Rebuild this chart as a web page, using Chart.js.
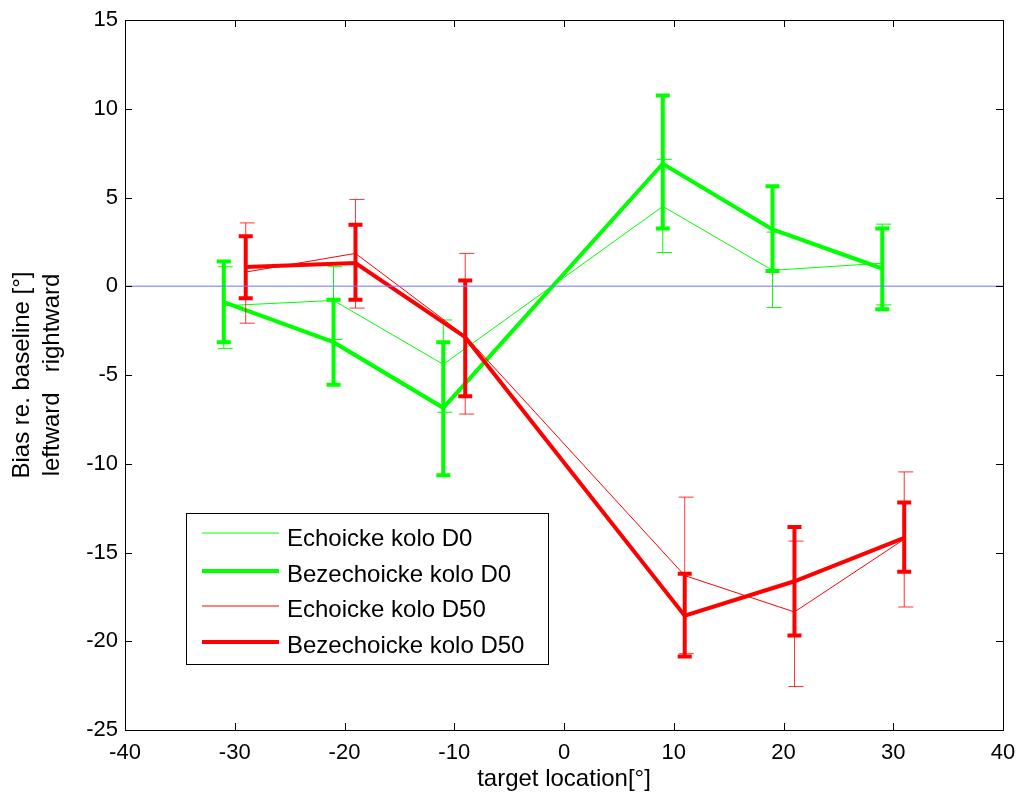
<!DOCTYPE html>
<html>
<head>
<meta charset="utf-8">
<script src="https://cdn.jsdelivr.net/npm/chart.js@4.4.0/dist/chart.umd.min.js"></script>
<style>
  html, body { margin: 0; padding: 0; background: #fff; }
  canvas { display: block; }
</style>
</head>
<body>
<canvas id="biasChart" width="1019" height="799"></canvas>
<script>
// target positions (D0 and D50 are shifted a bit so the bars don't overlap)
const xD0 = [-31, -21, -11, 9, 19, 29];
const xD50 = [-29, -19, -9, 11, 21, 31];

const echoD0 = [-1.1, -0.8, -4.4, 4.5, 0.9, 1.3];
const echoD0Low = [-3.5, -3.0, -7.1, 1.9, -1.2, -1.05];
const echoD0High = [1.1, 1.1, -1.9, 7.15, 3.05, 3.5];

const bezD0 = [-0.9, -3.15, -6.85, 6.9, 3.2, 1.0];
const bezD0Low = [-3.15, -5.55, -10.65, 3.25, 0.86, -1.3];
const bezD0High = [1.4, -0.76, -3.15, 10.75, 5.64, 3.25];

const echoD50 = [0.8, 1.85, -2.8, -16.3, -18.35, -14.25];
const echoD50Low = [-2.08, -1.23, -7.2, -20.7, -22.55, -18.07];
const echoD50High = [3.57, 4.89, 1.85, -11.88, -14.36, -10.46];

const bezD50 = [1.08, 1.31, -2.87, -18.56, -16.62, -14.17];
const bezD50Low = [-0.67, -0.76, -6.2, -20.86, -19.67, -16.09];
const bezD50High = [2.81, 3.47, 0.33, -16.2, -13.57, -12.19];

const xTicks = [-40, 40];
const yTicks = [-25, 15];

function toPoints(xs, ys) {
    return xs.map((x, i) => ({ x: x, y: ys[i] }));
}

Chart.defaults.font.family = '"Liberation Sans", Arial, sans-serif';
Chart.defaults.color = '#000';

const errorBars = {
    id: 'errorBars',
    afterDatasetDraw(chart, args) {
        const ds = chart.data.datasets[args.index];
        if (!ds.errLow) return;
        const ctx = chart.ctx;
        const xs = chart.scales.x, ys = chart.scales.y;
        ctx.save();
        ctx.strokeStyle = ds.barColor;
        ctx.lineWidth = ds.barWidth;
        ds.data.forEach((p, i) => {
            const px = xs.getPixelForValue(p.x);
            const top = ys.getPixelForValue(ds.errHigh[i]);
            const bot = ys.getPixelForValue(ds.errLow[i]);
            ctx.beginPath();
            ctx.moveTo(px, top);
            ctx.lineTo(px, bot);
            ctx.moveTo(px - ds.capLeft, top);
            ctx.lineTo(px + ds.capRight, top);
            ctx.moveTo(px - ds.capLeft, bot);
            ctx.lineTo(px + ds.capRight, bot);
            ctx.stroke();
        });
        ctx.restore();
    }
};

// matlab style box with ticks pointing inwards, plus the boxed legend
const frame = {
    id: 'frame',
    afterDraw(chart) {
        const ctx = chart.ctx;
        const a = chart.chartArea;
        const xs = chart.scales.x, ys = chart.scales.y;
        const tl = 7;
        ctx.save();
        ctx.strokeStyle = '#000';
        ctx.lineWidth = 1;
        ctx.strokeRect(a.left + 0.5, a.top + 0.5, a.right - a.left, a.bottom - a.top);
        ctx.beginPath();
        xs.ticks.forEach(t => {
            const px = Math.round(xs.getPixelForValue(t.value)) + 0.5;
            ctx.moveTo(px, a.bottom);
            ctx.lineTo(px, a.bottom - tl);
            ctx.moveTo(px, a.top);
            ctx.lineTo(px, a.top + tl);
        });
        ys.ticks.forEach(t => {
            const py = Math.round(ys.getPixelForValue(t.value)) + 0.5;
            ctx.moveTo(a.left, py);
            ctx.lineTo(a.left + tl, py);
            ctx.moveTo(a.right, py);
            ctx.lineTo(a.right - tl, py);
        });
        ctx.stroke();

        // legend
        const lx = 186, ly = 513, lw = 362, lh = 151;
        ctx.fillStyle = '#fff';
        ctx.fillRect(lx, ly, lw, lh);
        ctx.strokeRect(lx + 0.5, ly + 0.5, lw, lh);
        const lineYs = [533, 571, 606, 642];
        const textYs = [546, 582, 617, 653];
        const items = chart.data.datasets.filter(d => d.errLow);
        ctx.font = '24px "Liberation Sans", Arial, sans-serif';
        ctx.textBaseline = 'alphabetic';
        ctx.textAlign = 'left';
        items.forEach((d, i) => {
            ctx.strokeStyle = d.borderColor;
            ctx.lineWidth = d.borderWidth;
            ctx.beginPath();
            ctx.moveTo(202, lineYs[i]);
            ctx.lineTo(279, lineYs[i]);
            ctx.stroke();
            ctx.fillStyle = '#000';
            ctx.fillText(d.label, 287, textYs[i]);
        });
        ctx.restore();
    }
};

const ctx = document.getElementById('biasChart').getContext('2d');

const biasChart = new Chart(ctx, {
    type: 'line',
    data: {
        datasets: [{
            label: 'Echoicke kolo D0',
            data: toPoints(xD0, echoD0),
            errLow: echoD0Low,
            errHigh: echoD0High,
            borderColor: '#00ff00',
            barColor: '#00ff00',
            borderWidth: 1,
            barWidth: 1,
            capLeft: 6,
            capRight: 9,
            order: 4
        }, {
            label: 'Bezechoicke kolo D0',
            data: toPoints(xD0, bezD0),
            errLow: bezD0Low,
            errHigh: bezD0High,
            borderColor: '#00ff00',
            barColor: '#00ff00',
            borderWidth: 4,
            barWidth: 4,
            capLeft: 7,
            capRight: 7,
            order: 3
        }, {
            label: 'Echoicke kolo D50',
            data: toPoints(xD50, echoD50),
            errLow: echoD50Low,
            errHigh: echoD50High,
            borderColor: '#ff0000',
            barColor: 'rgba(255,0,0,0.8)',
            borderWidth: 1,
            barWidth: 1,
            capLeft: 6,
            capRight: 9,
            order: 2
        }, {
            label: 'Bezechoicke kolo D50',
            data: toPoints(xD50, bezD50),
            errLow: bezD50Low,
            errHigh: bezD50High,
            borderColor: '#ff0000',
            barColor: '#ff0000',
            borderWidth: 4,
            barWidth: 4,
            capLeft: 7,
            capRight: 7,
            order: 1
        }, {
            label: 'baseline',
            data: [{ x: xTicks[0], y: 0 }, { x: xTicks[1], y: 0 }],
            borderColor: 'rgba(120,120,255,0.7)',
            borderWidth: 1.5,
            order: 0
        }]
    },
    options: {
        responsive: false,
        animation: false,
        layout: { padding: { top: 20, right: 16, left: 0, bottom: 0 } },
        elements: {
            point: { radius: 0, hoverRadius: 0 },
            line: { tension: 0, fill: false }
        },
        plugins: {
            legend: { display: false },
            tooltip: { enabled: false }
        },
        scales: {
            x: {
                type: 'linear',
                min: xTicks[0],
                max: xTicks[1],
                grid: { display: false, drawTicks: false },
                border: { display: false },
                ticks: { stepSize: 10, padding: 10, maxRotation: 0, autoSkip: false, font: { size: 22 } },
                title: {
                    display: true,
                    text: 'target location[°]',
                    font: { size: 24 },
                    padding: { top: 0, bottom: 5 }
                },
                afterFit(scale) {
                    scale.height = 69;
                    scale.paddingLeft = 0;
                    scale.paddingRight = 0;
                }
            },
            y: {
                type: 'linear',
                min: yTicks[0],
                max: yTicks[1],
                grid: { display: false, drawTicks: false },
                border: { display: false },
                ticks: { stepSize: 5, padding: 7, autoSkip: false, font: { size: 22 } },
                title: {
                    display: true,
                    text: ['Bias re. baseline [°]', 'leftward   rightward'],
                    font: { size: 24, lineHeight: 1.25 },
                    padding: { top: 7, bottom: 0 }
                },
                afterFit(scale) {
                    scale.width = 125;
                    scale.paddingTop = 0;
                    scale.paddingBottom = 0;
                }
            }
        }
    },
    plugins: [errorBars, frame]
});
</script>
</body>
</html>
